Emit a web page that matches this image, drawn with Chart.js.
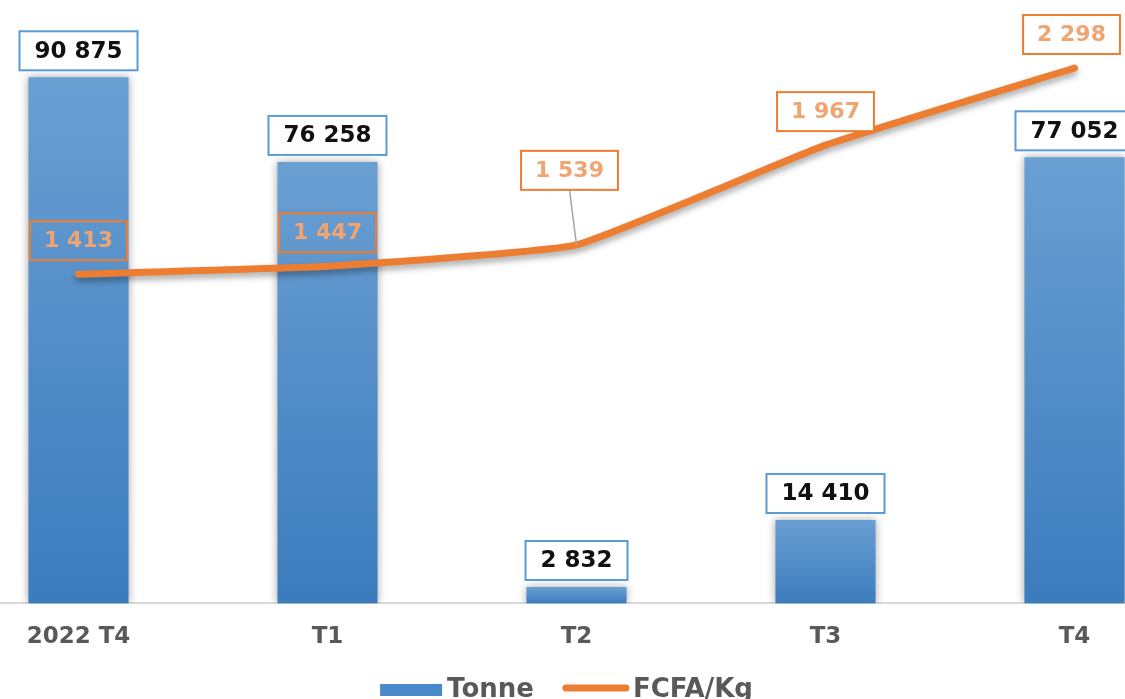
<!DOCTYPE html>
<html>
<head>
<meta charset="utf-8">
<script src="https://cdn.jsdelivr.net/npm/chart.js@4"></script>
<style>
  html, body { margin: 0; padding: 0; background: #fff; overflow: hidden; width: 1125px; height: 699px; }
  #cadre { position: absolute; left: -46px; top: 0; width: 1245px; height: 699px; }
</style>
</head>
<body>
<div id="cadre"><canvas id="graphique"></canvas></div>
<script>
const categories = ["2022 T4", "T1", "T2", "T3", "T4"];
const tonnes = [90875, 76258, 2832, 14410, 77052];
const prixKg = [1413, 1447, 1539, 1967, 2298];

const POLICE = "'DejaVu Sans', Verdana, sans-serif";

function fmt(n) {
  return n.toString().replace(/\B(?=(\d{3})+(?!\d))/g, " ");
}

function degrade(c) {
  const chart = c.chart;
  const zone = chart.chartArea;
  if (!zone || !chart.scales.y || c.raw === undefined) return "#5b9bd5";
  const haut = chart.scales.y.getPixelForValue(c.raw);
  const g = chart.ctx.createLinearGradient(0, haut, 0, zone.bottom);
  g.addColorStop(0, "#6a9fd2");
  g.addColorStop(1, "#3b7cbe");
  return g;
}

function boite(ctx, x, y, w, h, bord, fond) {
  if (fond) {
    ctx.fillStyle = fond;
    ctx.fillRect(x, y, w, h);
  }
  ctx.strokeStyle = bord;
  ctx.lineWidth = 2;
  ctx.strokeRect(x, y, w, h);
}

// ombres sous les barres et la courbe
const ombres = {
  id: "ombres",
  beforeDatasetDraw(chart, args) {
    const c = chart.ctx;
    c.save();
    c.shadowColor = "rgba(0,0,0,0.35)";
    c.shadowBlur = args.index === 0 ? 8 : 6;
    c.shadowOffsetX = 0;
    c.shadowOffsetY = args.index === 0 ? 0 : 4;
  },
  afterDatasetDraw(chart) {
    chart.ctx.restore();
  }
};

// étiquettes encadrées
const etiquettes = {
  id: "etiquettes",
  afterDatasetsDraw(chart) {
    const ctx = chart.ctx;
    ctx.save();
    ctx.textAlign = "center";
    ctx.textBaseline = "middle";
    const h = 39;

    ctx.font = "bold 23px " + POLICE;
    chart.getDatasetMeta(0).data.forEach((barre, i) => {
      const txt = fmt(tonnes[i]);
      const w = ctx.measureText(txt).width + 30;
      const bas = barre.y - 7;
      boite(ctx, barre.x - w / 2, bas - h, w, h, "#5b9bd5", "#ffffff");
      ctx.fillStyle = "#111111";
      ctx.fillText(txt, barre.x, bas - h / 2 + 1);
    });

    ctx.font = "bold 22px " + POLICE;
    chart.getDatasetMeta(1).data.forEach((pt, i) => {
      const txt = fmt(prixKg[i]);
      const w = ctx.measureText(txt).width + 28;
      const decal = i === 2 ? 55 : 14;
      const dx = i === 2 ? -7 : (i === 4 ? -3 : 0);
      const cx = pt.x + dx;
      const bas = pt.y - decal;
      if (i === 2) {
        ctx.strokeStyle = "#a6a6a6";
        ctx.lineWidth = 1.5;
        ctx.beginPath();
        ctx.moveTo(cx, bas);
        ctx.lineTo(pt.x, pt.y);
        ctx.stroke();
      }
      boite(ctx, cx - w / 2, bas - h, w, h, "#ed7d31", i < 2 ? null : "#ffffff");
      ctx.fillStyle = "#f0a472";
      ctx.fillText(txt, cx, bas - h / 2 + 1);
    });
    ctx.restore();
  }
};

// légende en bas, dessinée à la main
const legende = {
  id: "legende",
  afterDraw(chart) {
    const ctx = chart.ctx;
    ctx.save();
    ctx.font = "bold 26px " + POLICE;
    ctx.textBaseline = "alphabetic";
    const noms = chart.data.datasets.map(d => d.label);
    const wT = ctx.measureText(noms[0]).width;
    const wF = ctx.measureText(noms[1]).width;
    const total = 62 + 5 + wT + 29 + 66 + 4 + wF;
    let x = chart.width / 2 - 10 - total / 2;
    const base = chart.height - 2;
    ctx.fillStyle = "#4a8acb";
    ctx.fillRect(x, base - 13, 62, 12);
    x += 67;
    ctx.fillStyle = "#595959";
    ctx.fillText(noms[0], x, base);
    x += wT + 29;
    ctx.strokeStyle = "#ed7d31";
    ctx.lineWidth = 7;
    ctx.lineCap = "round";
    ctx.beginPath();
    ctx.moveTo(x + 3, base - 9);
    ctx.lineTo(x + 63, base - 9);
    ctx.stroke();
    x += 70;
    ctx.fillText(noms[1], x, base);
    ctx.restore();
  }
};

const ctx = document.getElementById("graphique").getContext("2d");
new Chart(ctx, {
  data: {
    labels: categories,
    datasets: [
      {
        type: "bar",
        label: "Tonne",
        data: tonnes,
        yAxisID: "y",
        backgroundColor: degrade,
        borderWidth: 0,
        categoryPercentage: 1,
        barPercentage: 0.402,
        order: 1
      },
      {
        type: "line",
        label: "FCFA/Kg",
        data: prixKg,
        yAxisID: "y2",
        borderColor: "#ed7d31",
        backgroundColor: "#ed7d31",
        borderWidth: 7,
        borderCapStyle: "round",
        borderJoinStyle: "round",
        pointRadius: 0,
        tension: 0.12,
        order: 0
      }
    ]
  },
  options: {
    responsive: true,
    maintainAspectRatio: false,
    animation: false,
    layout: { padding: { top: 10, bottom: 36 } },
    plugins: {
      tooltip: { enabled: false },
      legend: { display: false }
    },
    scales: {
      x: {
        grid: { display: false },
        border: { display: true, color: "#d9d9d9", width: 2 },
        ticks: {
          color: "#595959",
          padding: 12,
          font: { family: POLICE, size: 23, weight: "bold" }
        }
      },
      y: { display: false, min: 0, max: 102500 },
      y2: { display: false, position: "right", min: 0, max: 2547 }
    }
  },
  plugins: [ombres, etiquettes, legende]
});
</script>
</body>
</html>
